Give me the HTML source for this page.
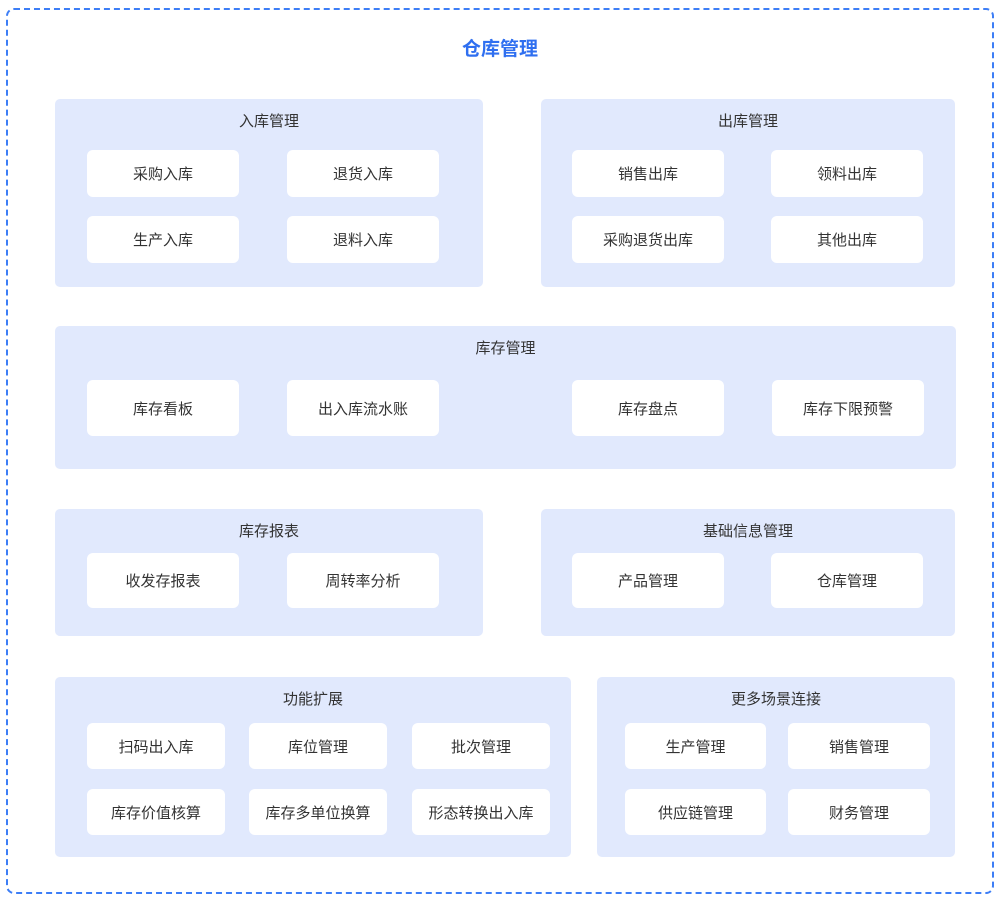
<!DOCTYPE html>
<html><head><meta charset="utf-8"><style>
*{margin:0;padding:0;box-sizing:border-box}
body{width:1000px;height:904px;background:#fff;position:relative;overflow:hidden;font-family:"Liberation Sans","Noto Sans CJK SC",sans-serif;color:#333}
.outer{position:absolute;left:6px;top:8px;width:988px;height:886px;border:2px dashed #3d7ef6;border-radius:8px}
.title{position:absolute;left:0;width:1000px;top:34px;text-align:center;font-size:19px;font-weight:bold;color:#2f6ff0}
.g{position:absolute;background:#e1e9fd;border-radius:5px}
.gt{position:absolute;left:0;right:0;text-align:center;font-size:15px;top:11px}
.c{position:absolute;background:#fff;border-radius:6px;display:flex;align-items:center;justify-content:center;font-size:15px}
</style></head><body>
<div class="outer"></div>
<div class="title">仓库管理</div>

<div class="g" style="left:55px;top:99px;width:428px;height:188px"><div class="gt">入库管理</div></div>
<div class="c" style="left:87px;top:150px;width:152px;height:47px">采购入库</div>
<div class="c" style="left:287px;top:150px;width:152px;height:47px">退货入库</div>
<div class="c" style="left:87px;top:216px;width:152px;height:47px">生产入库</div>
<div class="c" style="left:287px;top:216px;width:152px;height:47px">退料入库</div>

<div class="g" style="left:541px;top:99px;width:414px;height:188px"><div class="gt">出库管理</div></div>
<div class="c" style="left:572px;top:150px;width:152px;height:47px">销售出库</div>
<div class="c" style="left:771px;top:150px;width:152px;height:47px">领料出库</div>
<div class="c" style="left:572px;top:216px;width:152px;height:47px">采购退货出库</div>
<div class="c" style="left:771px;top:216px;width:152px;height:47px">其他出库</div>

<div class="g" style="left:55px;top:326px;width:901px;height:143px"><div class="gt">库存管理</div></div>
<div class="c" style="left:87px;top:380px;width:152px;height:56px">库存看板</div>
<div class="c" style="left:287px;top:380px;width:152px;height:56px">出入库流水账</div>
<div class="c" style="left:572px;top:380px;width:152px;height:56px">库存盘点</div>
<div class="c" style="left:772px;top:380px;width:152px;height:56px">库存下限预警</div>

<div class="g" style="left:55px;top:509px;width:428px;height:127px"><div class="gt">库存报表</div></div>
<div class="c" style="left:87px;top:553px;width:152px;height:55px">收发存报表</div>
<div class="c" style="left:287px;top:553px;width:152px;height:55px">周转率分析</div>

<div class="g" style="left:541px;top:509px;width:414px;height:127px"><div class="gt">基础信息管理</div></div>
<div class="c" style="left:572px;top:553px;width:152px;height:55px">产品管理</div>
<div class="c" style="left:771px;top:553px;width:152px;height:55px">仓库管理</div>

<div class="g" style="left:55px;top:677px;width:516px;height:180px"><div class="gt">功能扩展</div></div>
<div class="c" style="left:87px;top:723px;width:138px;height:46px">扫码出入库</div>
<div class="c" style="left:249px;top:723px;width:138px;height:46px">库位管理</div>
<div class="c" style="left:412px;top:723px;width:138px;height:46px">批次管理</div>
<div class="c" style="left:87px;top:789px;width:138px;height:46px">库存价值核算</div>
<div class="c" style="left:249px;top:789px;width:138px;height:46px">库存多单位换算</div>
<div class="c" style="left:412px;top:789px;width:138px;height:46px">形态转换出入库</div>

<div class="g" style="left:597px;top:677px;width:358px;height:180px"><div class="gt">更多场景连接</div></div>
<div class="c" style="left:625px;top:723px;width:141px;height:46px">生产管理</div>
<div class="c" style="left:788px;top:723px;width:142px;height:46px">销售管理</div>
<div class="c" style="left:625px;top:789px;width:141px;height:46px">供应链管理</div>
<div class="c" style="left:788px;top:789px;width:142px;height:46px">财务管理</div>
</body></html>
